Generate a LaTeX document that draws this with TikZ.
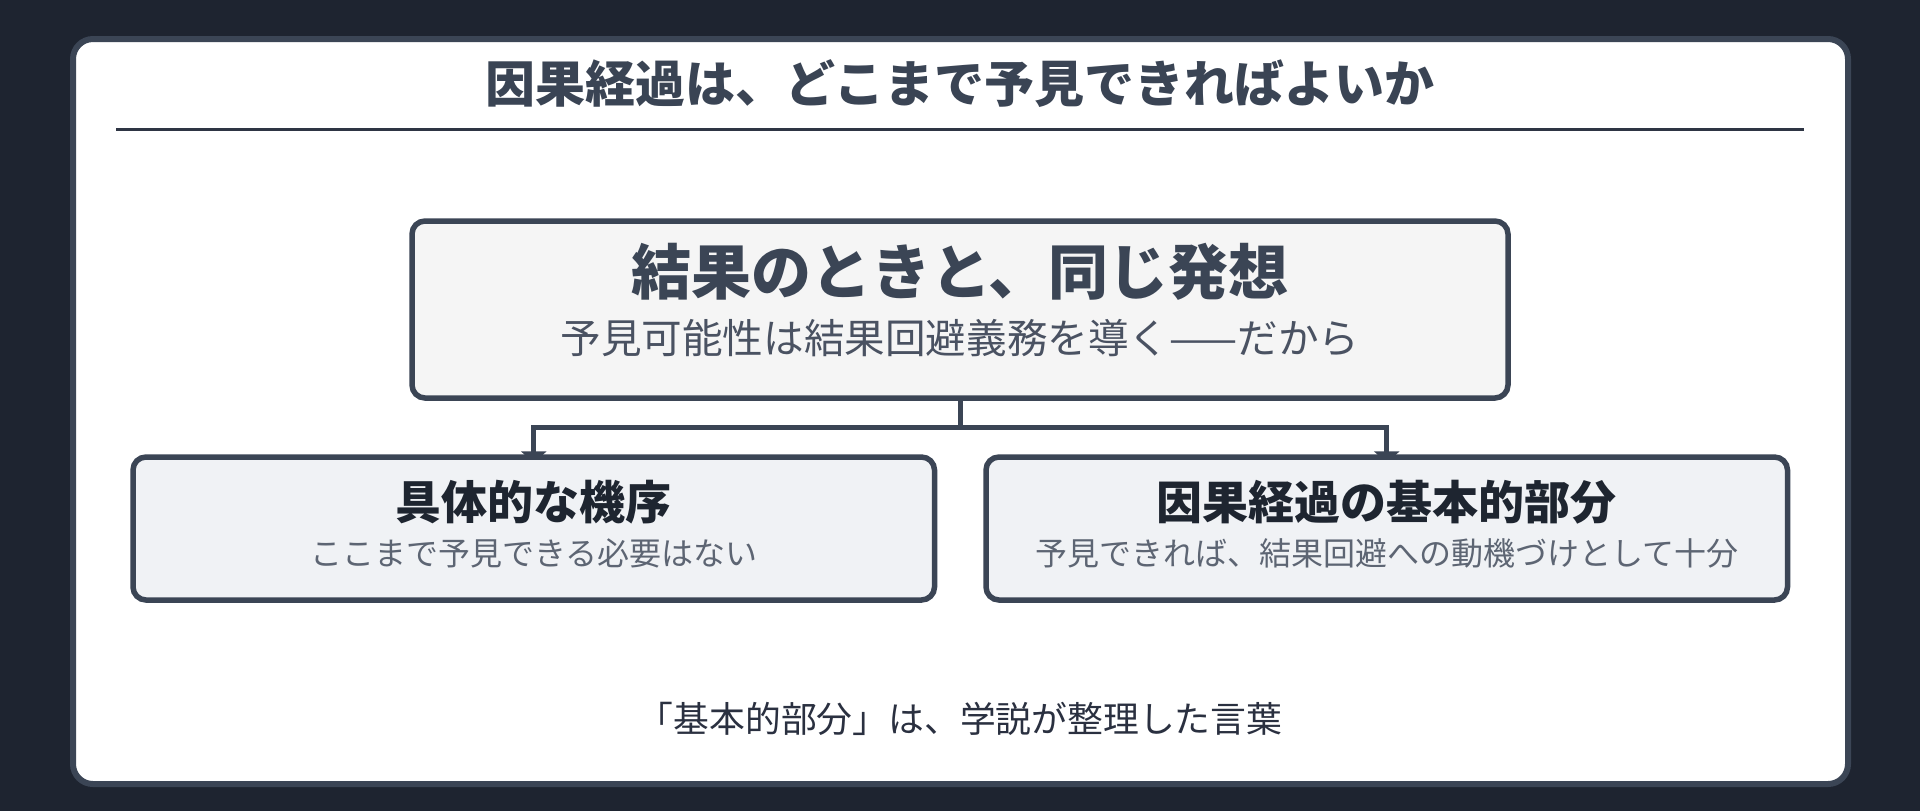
\documentclass[tikz,border=0pt]{standalone}
\usepackage{fontspec}
\setmainfont{Noto Sans CJK JP}
\newfontfamily\jp{Noto Sans CJK JP}
\usetikzlibrary{arrows.meta}
\definecolor{pagebg}{HTML}{1E2430}
\definecolor{frameln}{HTML}{3B4555}
\definecolor{titlec}{HTML}{3A4454}
\definecolor{rulec}{HTML}{2E3544}
\definecolor{topfill}{HTML}{F5F5F5}
\definecolor{kidfill}{HTML}{F0F2F5}
\definecolor{kidtitle}{HTML}{1E2530}
\definecolor{kidsub}{HTML}{5D6573}
\definecolor{topsub}{HTML}{4A5262}
\definecolor{footc}{HTML}{2A3040}
\pgfdeclarelayer{bglayer}
\pgfdeclarelayer{connlayer}
\pgfsetlayers{bglayer,connlayer,main}
\tikzset{
  box/.style={draw=frameln, line width=2.75pt, rounded corners=6.5pt, inner sep=0pt},
  topbox/.style={box, fill=topfill, minimum width=548pt, minimum height=88.5pt},
  kidbox/.style={box, fill=kidfill, minimum width=400.75pt, minimum height=71.5pt},
  conn/.style={draw=frameln, line width=2.5pt},
  arr/.style={conn, -{Triangle[width=12.5pt,length=6pt]}, shorten >=-4.5pt},
  txt/.style={inner sep=0pt, font=\jp},
}
\begin{document}
\begin{tikzpicture}[x=0.5pt, y=-0.5pt]
\useasboundingbox (0,0) rectangle (1920,811);
\begin{pgfonlayer}{bglayer}
  \fill[pagebg] (0,0) rectangle (1920,811);
  \draw[draw=frameln, fill=white, line width=3pt, rounded corners=10pt] (73,39) rectangle (1848,784);
\end{pgfonlayer}
% title and rule
\node[txt, text=titlec, font=\jp\bfseries\fontsize{25pt}{30pt}\selectfont] (title) at (960,84) {因果経過は、どこまで予見できればよいか};
\coordinate (ruleL) at (116,129.5);
\coordinate (ruleR) at (1804,129.5);
\draw[rulec, line width=1.5pt] (ruleL) -- (ruleR);
% boxes
\node[topbox] (top) at (960,309.5) {};
\node[kidbox] (left) at (533.75,528.5) {};
\node[kidbox] (right) at (1386.75,528.5) {};
% texts
\node[txt, text=frameln, font=\jp\bfseries\fontsize{30pt}{36pt}\selectfont] (topmain) at (960,272) {結果のときと、同じ発想};
\node[txt, text=topsub, font=\jp\fontsize{20.3pt}{24pt}\selectfont] (topsubt) at (960,338) {予見可能性は結果回避義務を導く——だから};
\node[txt, text=kidtitle, font=\jp\bfseries\fontsize{23pt}{28pt}\selectfont] (lefttitle) at (533.75,502) {具体的な機序};
\node[txt, text=kidsub, font=\jp\fontsize{16pt}{20pt}\selectfont] (leftsub) at (533.75,553) {ここまで予見できる必要はない};
\node[txt, text=kidtitle, font=\jp\bfseries\fontsize{23pt}{28pt}\selectfont] (righttitle) at (1386.75,502) {因果経過の基本的部分};
\node[txt, text=kidsub, font=\jp\fontsize{16pt}{20pt}\selectfont] (rightsub) at (1386.75,553) {予見できれば、結果回避への動機づけとして十分};
\node[txt, text=footc, font=\jp\fontsize{17.9pt}{22pt}\selectfont] (foot) at (960,719) {「基本的部分」は、学説が整理した言葉};
% connectors
\begin{pgfonlayer}{connlayer}
  \coordinate (junc) at (960,427.5);
  \draw[conn] (top.south) -- (junc);
  \draw[arr] (junc) -| (left.north);
  \draw[arr] (junc) -| (right.north);
\end{pgfonlayer}
\end{tikzpicture}
\end{document}
